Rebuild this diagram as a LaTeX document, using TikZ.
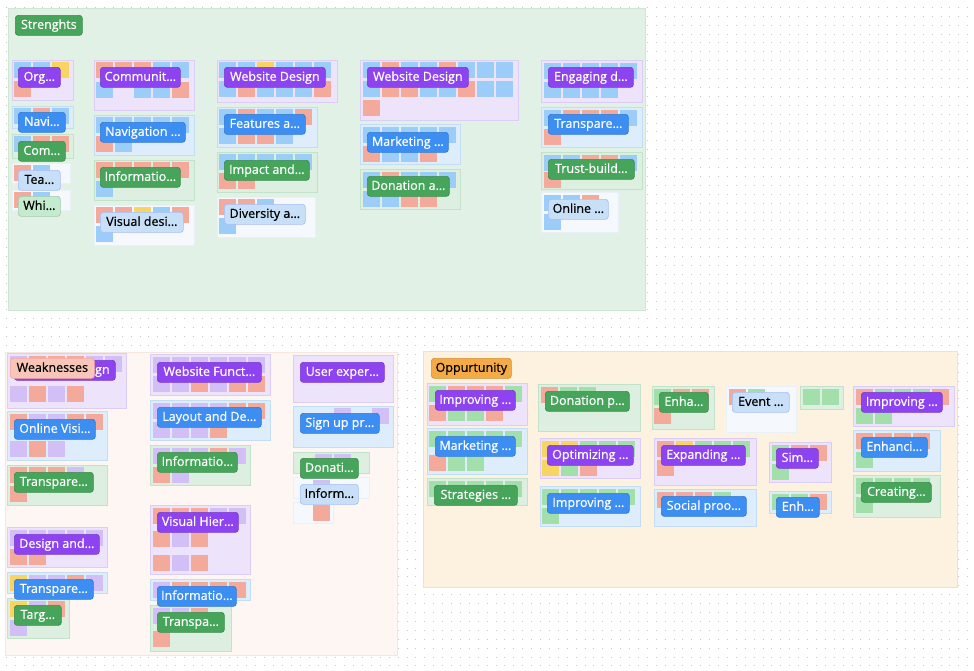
\documentclass[tikz,border=0pt]{standalone}
\usepackage{fontspec}
\setmainfont{Open Sans}
\newfontfamily\tagfont{Open Sans}[FakeBold=0.7]

\definecolor{secG}{HTML}{E2F1E5}
\definecolor{secGb}{HTML}{CDE7D3}
\definecolor{secW}{HTML}{FDF6F2}
\definecolor{secWb}{HTML}{F5E6DE}
\definecolor{secO}{HTML}{FDF1E0}
\definecolor{secOb}{HTML}{F6E0C1}
\definecolor{gP}{HTML}{EDE3FA}
\definecolor{gPb}{HTML}{DCCDF5}
\definecolor{gB}{HTML}{DDEDFB}
\definecolor{gBb}{HTML}{C3DDF5}
\definecolor{gG}{HTML}{DCEFE0}
\definecolor{gGb}{HTML}{C2E2C9}
\definecolor{gW}{HTML}{F5F9FD}
\definecolor{gWb}{HTML}{E9F0F8}
\definecolor{sb}{HTML}{9BCDF8}
\definecolor{sr}{HTML}{F4AA9B}
\definecolor{sy}{HTML}{F8D462}
\definecolor{sp}{HTML}{D2BFF6}
\definecolor{sg}{HTML}{A3DFAB}
\definecolor{tP}{HTML}{8D44F0}
\definecolor{tB}{HTML}{3C8EF3}
\definecolor{tG}{HTML}{46A55B}
\definecolor{tLB}{HTML}{C7E0F8}
\definecolor{tLG}{HTML}{C4EBCD}
\definecolor{tWk}{HTML}{F8C6B8}
\definecolor{tOp}{HTML}{F4AA45}

\tikzset{
  griddot/.style={draw=black!22, line width=1pt, dash pattern=on 1pt off 7.9pt},
  grpP/.style={fill=gP, draw=gPb, line width=0.8pt},
  grpB/.style={fill=gB, draw=gBb, line width=0.8pt},
  grpG/.style={fill=gG, draw=gGb, line width=0.8pt},
  grpW/.style={fill=gW, draw=gWb, line width=0.8pt},
  tag/.style={rounded corners=3pt, anchor=north west, minimum height=20pt,
    inner xsep=3pt, inner ysep=0pt, line width=0.7pt,
    font=\tagfont\fontsize{12.5}{14}\selectfont, text height=9.5pt, text depth=2.5pt},
  tagP/.style={tag, fill=tP, draw=tP!85!black, text=white},
  tagB/.style={tag, fill=tB, draw=tB!85!black, text=white},
  tagG/.style={tag, fill=tG, draw=tG!85!black, text=white},
  tagLB/.style={tag, fill=tLB, draw=tLB!85!blue, text=black},
  tagLG/.style={tag, fill=tLG, draw=tLG!85!black, text=black},
  tagWk/.style={tag, fill=tWk, draw=tWk!85!red, text=black},
  tagOp/.style={tag, fill=tOp, draw=tOp!85!black, text=black},
}

\newcommand{\stickies}[3]{%
  \foreach \c [count=\n from 0] in {#3}
    \fill[fill=\c] ({#1+19*\n},#2) rectangle ++(17,16);}

\begin{document}
\begin{tikzpicture}[x=1pt, y=-1pt]
\useasboundingbox (0,0) rectangle (974,670);
\fill[white] (0,0) rectangle (974,670);
% dot grid
\foreach \k in {0,...,74}
  \draw[griddot] (6,{7.3+8.9*\k}) -- (974,{7.3+8.9*\k});

% sections
\draw[fill=secG, draw=secGb] (8,8) rectangle (645,310);
\draw[fill=secW, draw=secWb] (5,352) rectangle (397,655);
\draw[fill=secO, draw=secOb] (423,351) rectangle (957,587);

% groups
\foreach \s/\xa/\ya/\xb/\yb in {
  grpP/12/60/73/100, grpB/12/106/73/128, grpG/12/134/73/158, grpW/12/163/70/183, grpW/12/190/70/210,
  grpP/94/60/194/110, grpB/94/115/194/155, grpG/94/160/194/200, grpW/94/205/194/245,
  grpP/217/60/337/102, grpB/217/107/317/147, grpG/217/152/317/192, grpW/217/197/315/237,
  grpP/360/60/518/120, grpB/360/124/460/164, grpG/360/169/460/209,
  grpP/541/60/642/102, grpB/541/107/642/147, grpG/541/152/642/189, grpW/541/192/618/232,
  grpP/7/353/126/408, grpB/7/411/107/460, grpG/7/465/107/505, grpP/7/527/107/567,
  grpB/7/572/107/593, grpG/7/598/69/638,
  grpP/150/354/270/395, grpB/150/400/270/440, grpG/150/445/250/485, grpP/150/505/250/574,
  grpB/150/579/250/600, grpG/150/605/231/651,
  grpP/293/355/393/402, grpB/293/406/393/447, grpG/293/452/369/473, grpW/293/477/369/498,
  grpW/293/502/333/523,
  grpP/427/383/527/425, grpB/427/428/527/474, grpG/427/478/527/505,
  grpG/538/384/640/431, grpP/540/438/640/478, grpB/540/486/640/526,
  grpG/652/386/714/429, grpW/726/386/796/432, grpG/800/386/843/409,
  grpP/654/438/756/485, grpB/654/489/756/526, grpP/769/442/831/482, grpB/769/491/831/513,
  grpP/853/386/954/426, grpB/853/430/940/471, grpG/853/475/940/517}
  \draw[\s] (\xa,\ya) rectangle (\xb,\yb);

% stickies, strengths
\stickies{14}{62}{sb,sb,sy} \stickies{14}{81}{sr}
\stickies{14}{108}{sb,sr,sb}
\stickies{14}{136}{sb,sr,sr}
\stickies{14}{165}{sr,sb}
\stickies{14}{192}{sr,sb}
\stickies{96}{62}{sr,sr,sr,sb,sb} \stickies{96}{82}{sb,none,sb,sb,sr}
\stickies{96}{117}{sb,sb,sb,sb,sb} \stickies{96}{136}{sr,sb}
\stickies{96}{162}{sr,sr,sr,sr,sr} \stickies{96}{181}{sb}
\stickies{96}{207}{sr,sr,sy,sb,sr} \stickies{96}{226}{sb}
\stickies{219}{62}{sb,sb,sy,sb,sb,sb} \stickies{219}{81}{sb,sr,sb,sb,sb,sr}
\stickies{219}{109}{sb,sr,sb,sb,sr} \stickies{219}{128}{sb,sr,sr,sb}
\stickies{219}{154}{sb,sb,sb,sb,sb} \stickies{219}{173}{sr,sr}
\stickies{219}{199}{sr,sr,sb} \stickies{219}{218}{sb}
\stickies{363}{62}{sb,sr,sb,sb,sr,sb,sb,sb} \stickies{363}{81}{sb,sr,sr,sb,sb,sr,sb,sb}
\stickies{363}{100}{sr}
\stickies{363}{127}{sb,sb,sb,sb,sb} \stickies{363}{146}{sr,sb,sb,sr}
\stickies{363}{172}{sb,sr,sb,sb,sb} \stickies{363}{191}{sb,sb,sr,sr}
\stickies{544}{63}{sb,sb,sb,sb,sb} \stickies{544}{82}{sb,sb,sb,sb}
\stickies{544}{110}{sb,sr,sr,sr,sb} \stickies{544}{129}{sr}
\stickies{544}{155}{sb,sb,sr,sr,sb} \stickies{544}{172}{sr}
\stickies{544}{195}{sb,sb,sr} \stickies{544}{214}{sb}
% stickies, weaknesses
\stickies{10}{356}{sp,sr,sr,sr,sp,sp} \stickies{10}{386}{sp,sr,sp,sr}
\stickies{10}{414}{sr,sp,sp,sr,sr} \stickies{10}{441}{sp,sr,sp}
\stickies{10}{467}{sr,sr,sr,sp} \stickies{10}{486}{sr}
\stickies{10}{530}{sp,sp,sp,sp,sp} \stickies{10}{549}{sr,sr}
\stickies{10}{575}{sy,sp,sp,sr,sp}
\stickies{10}{601}{sy,sp,sr} \stickies{10}{620}{sp}
\stickies{153}{357}{sp,sp,sp,sp,sp,sp} \stickies{153}{376}{sp,sp,sr,sp,sr,sr}
\stickies{153}{403}{sp,sp,sp,sp,sr,sr} \stickies{153}{422}{sp,sp,sp,sr}
\stickies{153}{448}{sp,sp,sp,sr,sp} \stickies{153}{467}{sr,sp}
\stickies{153}{508}{sr,sr,sr,sp,sp} \stickies{153}{531}{sr,sp,sr}
\stickies{153}{555}{sr,sp,sr}
\stickies{153}{582}{sp,sr,sr,sr,sr}
\stickies{153}{608}{sp,sp,sr} \stickies{153}{631}{sr}
\stickies{334}{408}{sp,none,sp}
\stickies{315}{454}{sp,sp}
\stickies{313}{480}{sp}
\stickies{313}{505}{sr}
% stickies, opportunity
\stickies{429}{386}{sg,sr,sr,sr,sg} \stickies{429}{405}{sr,sg,sg,sr}
\stickies{429}{431}{sg,sg,sg,sg,sg} \stickies{429}{455}{sr,sg,sg}
\stickies{429}{481}{sg,sg,sg,sg,sg}
\stickies{541}{387}{sr,sg,sg}
\stickies{542}{441}{sy,sy,sg,sg,sg} \stickies{542}{460}{sy,sg,sr}
\stickies{542}{489}{sg,sg,sg,sg,sg} \stickies{542}{508}{sg}
\stickies{654}{389}{sg,sr,sr} \stickies{654}{408}{sr}
\stickies{729}{389}{sr,sg}
\stickies{803}{389}{sg,sg}
\stickies{657}{441}{sr,sy,sg,sg,sg} \stickies{657}{460}{sr}
\stickies{657}{492}{sr,sr,sr,sg}
\stickies{772}{445}{sg,sr,sr} \stickies{772}{464}{sg}
\stickies{772}{494}{sg,sg,sr}
\stickies{856}{389}{sr,sg,sg,sg,sr} \stickies{856}{408}{sg,sg}
\stickies{856}{433}{sr,sr,sr,sr} \stickies{856}{452}{sg}
\stickies{856}{478}{sg,sg,sg,sg} \stickies{856}{497}{sg}

% tags
\foreach \nm/\s/\x/\y/\w/\t in {
  strengths/tagG/15/15/67/Strenghts,
  org/tagP/18/67/42/Org…, navi/tagB/18/112/47/Navi…, com/tagG/18/141/47/Com…,
  tea/tagLB/18/170/42/Tea…, whi/tagLG/18/196/42/Whi…,
  comm/tagP/100/67/80/Communit…, nav/tagB/100/122/85/Navigation …,
  info/tagG/100/167/80/Informatio…, vis/tagLB/100/212/83/Visual desi…,
  wd/tagP/224/67/101/Website Design, feat/tagB/224/114/81/Features a…,
  imp/tagG/224/160/85/Impact and…, div/tagLB/224/204/81/Diversity a…,
  wdb/tagP/367/67/101/Website Design, mkt/tagB/367/132/81/Marketing …,
  don/tagG/367/176/82/Donation a…,
  eng/tagP/548/67/85/Engaging d…, tra/tagB/548/114/80/Transpare…,
  tru/tagG/548/159/86/Trust-build…, onl/tagLB/548/199/60/Online …,
  wwd/tagP/14/360/101/Website Design, weak/tagWk/10/358/84/Weaknesses,
  wonl/tagB/14/419/81/Online Visi…, wtrg/tagG/14/472/79/Transpare…,
  wdes/tagP/14/534/85/Design and…, wtrb/tagB/14/579/79/Transpare…,
  wtar/tagG/14/605/47/Targ…,
  wfun/tagP/157/362/104/Website Funct…, wlay/tagB/157/407/104/Layout and De…,
  winf/tagG/157/452/80/Informatio…, wvis/tagP/157/512/81/Visual Hier…,
  winb/tagB/157/586/79/Informatio…, wtpa/tagG/157/612/67/Transpa…,
  wusr/tagP/300/362/84/User exper…, wsig/tagB/300/413/79/Sign up pr…,
  wdon/tagG/300/458/58/Donati…, wifo/tagLB/300/484/58/Inform…,
  opp/tagOp/431/358/80/Oppurtunity,
  oimp/tagP/435/390/80/Improving …, omkt/tagB/435/436/80/Marketing …,
  ostr/tagG/434/485/83/Strategies …, odon/tagG/545/391/84/Donation p…,
  oopt/tagP/547/445/86/Optimizing …, oimb/tagB/547/493/82/Improving …,
  oenh/tagG/659/392/49/Enha…, oevt/tagLB/732/392/57/Event …,
  oexp/tagP/661/445/84/Expanding …, osoc/tagB/661/496/85/Social proo…,
  osim/tagP/776/448/42/Sim…, oenb/tagB/776/497/43/Enh…,
  oimr/tagP/861/392/81/Improving …, oenc/tagB/861/437/66/Enhanci…,
  ocre/tagG/861/482/70/Creating…}
  \node[\s, minimum width=\w] (t-\nm) at (\x,\y) {\t};
\end{tikzpicture}
\end{document}
